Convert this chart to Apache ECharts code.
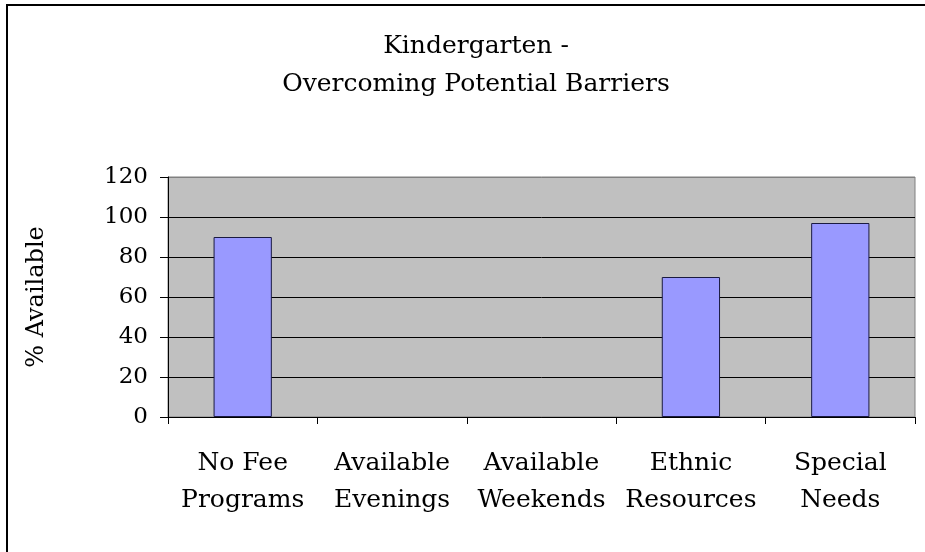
<!DOCTYPE html>
<html lang="en">
<head>
    <meta charset="UTF-8">
    <title>Kindergarten - Overcoming Potential Barriers</title>
    <style>
        *{
            margin:0;
            padding:0;
            box-sizing:border-box;
        }
        html, body{
            height:100%;
            width:100%;
            background:#fff;
        }
        #myChart{
            height:552px;
            width:925px;
        }
    </style>
</head>
<body>
<div id="myChart"></div>
<script src="https://cdn.jsdelivr.net/npm/echarts@6/dist/echarts.min.js"></script>
<script>
    var categories = ['No Fee\nPrograms', 'Available\nEvenings', 'Available\nWeekends', 'Ethnic\nResources', 'Special\nNeeds'];
    var values = [90, 0, 0, 70, 97];
    var yTicks = [0, 20, 40, 60, 80, 100, 120];

    var serif = '"DejaVu Serif", "Liberation Serif", serif';

    // zero bars have no visible outline in the original
    var barData = values.map(function(v) {
        return v === 0 ? {value:v, itemStyle:{borderWidth:0}} : v;
    });

    var myChart = echarts.init(document.getElementById('myChart'));
    var option = {
        animation:false,
        backgroundColor:'#fff',
        title:{
            text:'Kindergarten -\nOvercoming Potential Barriers',
            left:471,
            textAlign:'center',
            top:22,
            textStyle:{
                fontFamily:serif,
                fontWeight:'normal',
                fontSize:25,
                lineHeight:38,
                color:'#000'
            }
        },
        graphic:[
            {   // outer chart frame (only left/top visible)
                type:'rect',
                shape:{x:7, y:5, width:1000, height:1000},
                style:{fill:null, stroke:'#000', lineWidth:2},
                silent:true
            }
        ],
        grid:{
            left:168,
            right:10,
            top:177,
            bottom:135,
            show:true,
            backgroundColor:'#C0C0C0',
            borderColor:'#808080',
            borderWidth:1
        },
        xAxis:{
            type:'category',
            data:categories,
            axisLine:{lineStyle:{color:'#000', width:1}},
            axisTick:{show:true, length:7, lineStyle:{color:'#000'}},
            axisLabel:{
                fontFamily:serif,
                fontSize:25,
                lineHeight:37,
                color:'#000',
                margin:28,
                interval:0
            }
        },
        yAxis:{
            type:'value',
            min:yTicks[0],
            max:yTicks[yTicks.length - 1],
            interval:20,
            name:'% Available',
            nameLocation:'middle',
            nameGap:119,
            nameTextStyle:{
                fontFamily:serif,
                fontSize:24,
                color:'#000'
            },
            axisLine:{show:true, lineStyle:{color:'#000', width:1}},
            axisTick:{show:true, length:8, lineStyle:{color:'#000'}},
            axisLabel:{
                fontFamily:serif,
                fontSize:23,
                color:'#000',
                margin:20
            },
            splitLine:{
                show:true,
                lineStyle:{
                    color:['#000', '#000', '#000', '#000', '#000', '#000', '#808080'],
                    width:1
                }
            }
        },
        series:[
            {
                type:'bar',
                data:barData,
                barWidth:'39%',
                itemStyle:{
                    color:'#9999FF',
                    borderColor:'#1a1a40',
                    borderWidth:1
                }
            }
        ]
    };
    myChart.setOption(option);
</script>
</body>
</html>
